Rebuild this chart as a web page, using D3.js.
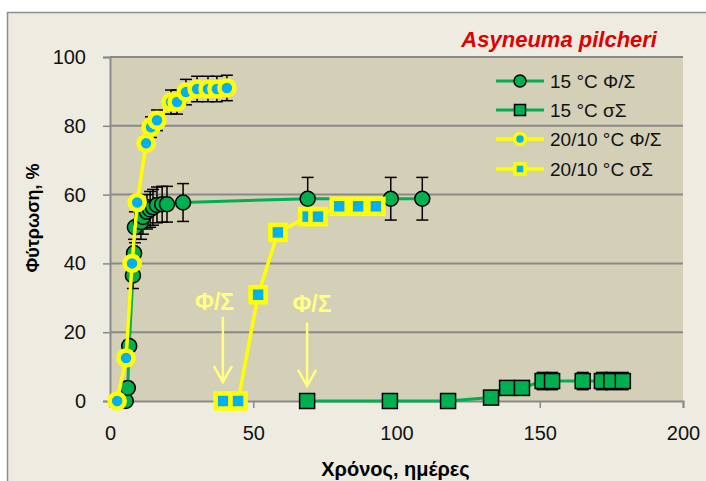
<!DOCTYPE html>
<html>
<head>
<meta charset="utf-8">
<script src="https://cdn.jsdelivr.net/npm/d3@7"></script>
<style>
  body { margin: 0; background: #fff; }
  svg text { font-family: "Liberation Sans", Arial, sans-serif; }
</style>
</head>
<body>
<div id="chart"></div>
<script>
// 15 °C Φ/Σ (green circles)
var gcDays = [5.5, 6.2, 6.7, 8.0, 8.4, 8.7, 10.8, 11.5, 12.9, 14, 15, 16.4, 18.2, 19.9, 25.5, 69, 98, 109];
var gcVals = [0, 3.8, 16, 36.5, 43, 50.5, 52, 53.5, 55, 55.7, 56.3, 57, 57.2, 57.2, 57.7, 58.8, 58.8, 58.8];
var gcErr  = [0, 0.5, 1.5, 3.8, 4, 4.5, 5, 5, 5, 5.2, 5.2, 5.2, 5.2, 5.2, 5.5, 6.2, 6.2, 6.2];

// 15 °C σΣ (green squares)
var gsDays = [68.8, 97.7, 118, 133, 138.6, 143.8, 151, 154.3, 165, 171.7, 175, 179];
var gsVals = [0, 0, 0, 1, 3.8, 3.8, 5.8, 5.8, 5.8, 5.8, 5.8, 5.8];
var gsErr  = [0, 0, 0, 0, 0, 0, 2.5, 2.5, 2.5, 2.5, 2.5, 2.5];

// 20/10 °C Φ/Σ (yellow circles)
var ycDays = [2.5, 5.6, 7.7, 9.5, 12.6, 14.3, 16.4, 21.3, 23.4, 26.5, 30.4, 34.2, 37.3, 40.8];
var ycVals = [0, 12.5, 40, 57.7, 74.9, 79.6, 81.6, 86.9, 86.9, 89.8, 90.7, 90.7, 90.7, 91];
var ycErr  = [0, 0, 0, 0, 2, 3, 3, 3.5, 3.5, 3.7, 3.7, 3.7, 3.7, 3.7];

// 20/10 °C σΣ (yellow squares)
var ysDays = [39.5, 44.7, 51.7, 58.6, 69, 72.6, 80, 86.6, 92.8];
var ysVals = [0, 0, 30.9, 49, 53.6, 53.6, 56.6, 56.6, 56.6];

var xTicks = [0, 50, 100, 150, 200];
var yTicks = [0, 20, 40, 60, 80, 100];

var legendLabels = ["15 °C Φ/Σ", "15 °C σΣ", "20/10 °C Φ/Σ", "20/10 °C σΣ"];

// transfer annotations
var arrowDays = [39.4, 68.8];
var arrowLabelDays = [36.5, 70.5];

var width = 706, height = 481;
var plot = {left: 110, right: 683, top: 57, bottom: 401};

var svg = d3.select("#chart").append("svg")
  .attr("width", width)
  .attr("height", height);

svg.append("rect")
  .attr("x", 7.5).attr("y", 12.5)
  .attr("width", width).attr("height", height)
  .style("fill", "#EEECE1")
  .style("stroke", "#8E8E8E")
  .style("stroke-width", 1.5);

var x = d3.scaleLinear().domain([0, 200]).range([plot.left, plot.right]);
var y = d3.scaleLinear().domain([0, 100]).range([plot.bottom, plot.top]);

svg.append("rect")
  .attr("x", plot.left).attr("y", plot.top)
  .attr("width", plot.right - plot.left)
  .attr("height", plot.bottom - plot.top)
  .style("fill", "#D4CFB7");

// gridlines
svg.append("g").selectAll("line")
  .data(yTicks.slice(1))
  .enter().append("line")
  .attr("x1", plot.left).attr("x2", plot.right)
  .attr("y1", d => y(d)).attr("y2", d => y(d))
  .style("stroke", "#898989")
  .style("stroke-width", 2);

// axes
var yAxis = svg.append("g")
  .attr("transform", "translate(" + plot.left + ",0)")
  .call(d3.axisLeft(y).tickValues(yTicks).tickSize(7).tickPadding(17));
var xAxis = svg.append("g")
  .attr("transform", "translate(0," + plot.bottom + ")")
  .call(d3.axisBottom(x).tickValues(xTicks).tickSize(7).tickPadding(18));

[yAxis, xAxis].forEach(function(a) {
  a.select(".domain").style("stroke", "#898989").style("stroke-width", 2);
  a.selectAll(".tick line").style("stroke", "#898989").style("stroke-width", 1.5);
  a.selectAll(".tick text")
    .style("font-family", "Liberation Sans, Arial, sans-serif")
    .style("font-size", "20px")
    .style("fill", "#111");
});

// axis titles
svg.append("text")
  .attr("transform", "translate(39," + (y(50) - 11) + ") rotate(-90)")
  .attr("text-anchor", "middle")
  .style("font-size", "18px")
  .style("font-weight", "bold")
  .text("Φύτρωση, %");

svg.append("text")
  .attr("x", x(100) - 1)
  .attr("y", 476)
  .attr("text-anchor", "middle")
  .style("font-size", "20px")
  .style("font-weight", "bold")
  .text("Χρόνος, ημέρες");

svg.append("text")
  .attr("x", 657)
  .attr("y", 47)
  .attr("text-anchor", "end")
  .style("font-size", "22px")
  .style("font-weight", "bold")
  .style("font-style", "italic")
  .style("fill", "#E00000")
  .text("Asyneuma pilcheri");

function zip(days, vals, errs) {
  return days.map((d, i) => ({day: d, val: vals[i], err: errs ? errs[i] : 0}));
}

var line = d3.line().x(d => x(d.day)).y(d => y(d.val));

function drawSeries(data, opt) {
  var g = svg.append("g");
  g.append("path")
    .datum(data)
    .attr("d", line)
    .style("fill", "none")
    .style("stroke", opt.line)
    .style("stroke-width", opt.lineWidth);

  var eb = g.selectAll(".eb")
    .data(data.filter(d => d.err > 0))
    .enter().append("g")
    .style("stroke", "#000")
    .style("stroke-width", 1.5);
  eb.append("line")
    .attr("x1", d => x(d.day)).attr("x2", d => x(d.day))
    .attr("y1", d => y(d.val + d.err)).attr("y2", d => y(d.val - d.err));
  eb.append("line")
    .attr("x1", d => x(d.day) - 6).attr("x2", d => x(d.day) + 6)
    .attr("y1", d => y(d.val + d.err)).attr("y2", d => y(d.val + d.err));
  eb.append("line")
    .attr("x1", d => x(d.day) - 6).attr("x2", d => x(d.day) + 6)
    .attr("y1", d => y(d.val - d.err)).attr("y2", d => y(d.val - d.err));

  if (opt.shape == "circle") {
    g.selectAll(".m").data(data).enter().append("circle")
      .attr("cx", d => x(d.day)).attr("cy", d => y(d.val))
      .attr("r", opt.size)
      .style("fill", opt.fill)
      .style("stroke", opt.stroke)
      .style("stroke-width", opt.strokeWidth);
  } else {
    g.selectAll(".m").data(data).enter().append("rect")
      .attr("x", d => x(d.day) - opt.size).attr("y", d => y(d.val) - opt.size)
      .attr("width", opt.size * 2).attr("height", opt.size * 2)
      .style("fill", opt.fill)
      .style("stroke", opt.stroke)
      .style("stroke-width", opt.strokeWidth);
  }
}

var styles = [
  {shape: "circle", size: 7.5, fill: "#00B050", stroke: "#000", strokeWidth: 1.5, line: "#00B050", lineWidth: 3},
  {shape: "square", size: 7.5, fill: "#00B050", stroke: "#000", strokeWidth: 1.5, line: "#00B050", lineWidth: 3},
  {shape: "circle", size: 7.5, fill: "#00B0F0", stroke: "#FFFF00", strokeWidth: 4.5, line: "#FFFF00", lineWidth: 3.5},
  {shape: "square", size: 7.5, fill: "#00B0F0", stroke: "#FFFF00", strokeWidth: 4.5, line: "#FFFF00", lineWidth: 3.5}
];

drawSeries(zip(gcDays, gcVals, gcErr), styles[0]);
drawSeries(zip(gsDays, gsVals, gsErr), styles[1]);
drawSeries(zip(ycDays, ycVals, ycErr), styles[2]);
drawSeries(zip(ysDays, ysVals), styles[3]);

// Φ/Σ arrows
var ann = svg.append("g").style("stroke", "#FFFF80").style("fill", "none").style("stroke-width", 2.5);
arrowDays.forEach(function(d, i) {
  var ax = x(d);
  var top = y(i == 0 ? 24.5 : 22.8), tip = y(i == 0 ? 5.5 : 4.4);
  ann.append("line").attr("x1", ax).attr("x2", ax).attr("y1", top).attr("y2", tip);
  ann.append("path")
    .attr("d", "M" + (ax - 9) + "," + (tip - 16) + "L" + ax + "," + tip + "L" + (ax + 9) + "," + (tip - 16));
  svg.append("text")
    .attr("x", x(arrowLabelDays[i]))
    .attr("y", y(i == 0 ? 26.4 : 25.8))
    .attr("text-anchor", "middle")
    .style("font-size", "23px")
    .style("font-weight", "bold")
    .style("fill", "#FFFF80")
    .text("Φ/Σ");
});

// legend
var legend = svg.append("g");
var legendY = [81, 110, 139, 169];
legendLabels.forEach(function(lab, i) {
  var s = styles[i], ly = legendY[i];
  legend.append("line")
    .attr("x1", 496).attr("x2", 544)
    .attr("y1", ly).attr("y2", ly)
    .style("stroke", s.line).style("stroke-width", s.lineWidth);
  if (s.shape == "circle") {
    legend.append("circle")
      .attr("cx", 520).attr("cy", ly).attr("r", i < 2 ? 6 : 5.5)
      .style("fill", s.fill).style("stroke", s.stroke)
      .style("stroke-width", i < 2 ? 1.5 : 3.5);
  } else {
    var h = i < 2 ? 5.5 : 5;
    legend.append("rect")
      .attr("x", 520 - h).attr("y", ly - h)
      .attr("width", h * 2).attr("height", h * 2)
      .style("fill", s.fill).style("stroke", s.stroke)
      .style("stroke-width", i < 2 ? 1.5 : 3.5);
  }
  legend.append("text")
    .attr("x", 550).attr("y", ly + 7)
    .style("font-size", "19px")
    .style("fill", "#111")
    .text(lab);
});
</script>
</body>
</html>
